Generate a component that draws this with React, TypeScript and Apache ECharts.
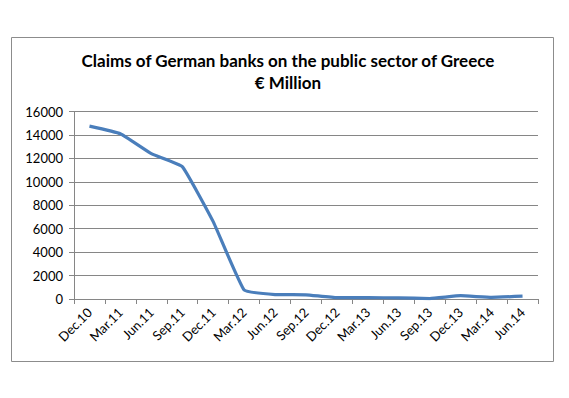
import React, { useEffect, useRef } from "react";
import * as echarts from "echarts";

const categories = ["Dec.10", "Mar.11", "Jun.11", "Sep.11", "Dec.11", "Mar.12", "Jun.12", "Sep.12", "Dec.12", "Mar.13", "Jun.13", "Sep.13", "Dec.13", "Mar.14", "Jun.14"];
const claims = [14750, 14100, 12400, 11300, 6600, 770, 380, 360, 110, 110, 100, 40, 280, 140, 240];
const titleLines = ["Claims of German banks on the public sector of Greece", "€ Million"];

export default function App() {
  const ref = useRef<HTMLDivElement>(null);
  useEffect(() => {
    const chart = echarts.init(ref.current!, undefined, { renderer: "svg" });
    chart.setOption({
      animation: false,
      backgroundColor: "#ffffff",
      textStyle: { fontFamily: "Lato, 'Open Sans', sans-serif" },
      graphic: [
        {
          type: "rect",
          shape: { x: 11.5, y: 37.5, width: 542, height: 324 },
          style: { fill: "none", stroke: "#8c8c8c", lineWidth: 1 },
          silent: true,
        },
      ],
      title: {
        text: titleLines.join("\n"),
        left: 283,
        textAlign: "center",
        top: 44,
        textStyle: { fontSize: 17, fontWeight: "bold", color: "#000", lineHeight: 22, fontFamily: "Lato, 'Open Sans', sans-serif" },
      },
      grid: { left: 74, right: 31, top: 111.5, bottom: 99 },
      xAxis: {
        type: "category",
        data: categories,
        boundaryGap: true,
        axisLine: { lineStyle: { color: "#868686" } },
        axisTick: { show: true, length: 5, alignWithLabel: false, lineStyle: { color: "#868686" } },
        axisLabel: { rotate: 45, color: "#000", fontSize: 13, margin: 11, interval: 0 },
      },
      yAxis: {
        type: "value",
        min: 0,
        max: 16000,
        interval: 2000,
        axisLine: { show: true, lineStyle: { color: "#868686" } },
        axisTick: { show: true, length: 5, inside: false, lineStyle: { color: "#868686" } },
        axisLabel: { color: "#000", fontSize: 13, margin: 11, formatter: (v: number) => String(v) },
        splitLine: { lineStyle: { color: "#868686" } },
      },
      series: [
        {
          type: "line",
          data: claims,
          smooth: 0.1,
          symbol: "none",
          lineStyle: { color: "#4a7ebb", width: 3.2 },
        },
      ],
    });
    return () => chart.dispose();
  }, []);
  return <div ref={ref} style={{ position: "fixed", left: 0, top: 0, width: 569, height: 398 }} />;
}
